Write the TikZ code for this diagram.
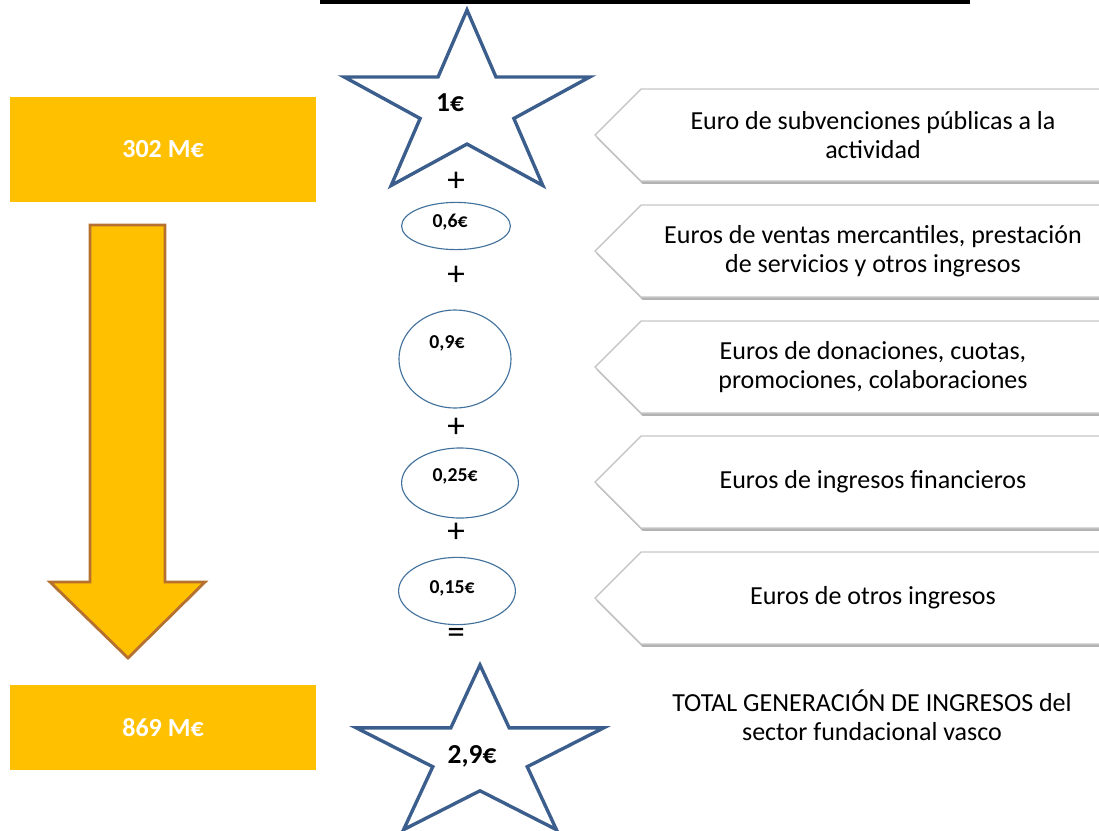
\documentclass[tikz,border=0pt]{standalone}
\usepackage{fontspec}
\setmainfont{Carlito}
\usepackage{tikz}
\usetikzlibrary{shapes.geometric,shadows}

\definecolor{gold}{HTML}{FFC000}
\definecolor{rust}{HTML}{B6702F}
\definecolor{starblue}{HTML}{3B5E8C}
\definecolor{ringblue}{HTML}{41719C}

\tikzset{
  valbox/.style={fill=gold, text=white, font=\bfseries\fontsize{18.5}{22}\selectfont, minimum width=7.65cm, inner sep=0pt},
  starline/.style={draw=starblue, line width=2.4pt, line join=miter},
  ring/.style={ellipse, draw=ringblue, line width=0.8pt, inner sep=0pt},
  ringval/.style={font=\bfseries\fontsize{14}{16}\selectfont},
  starval/.style={font=\bfseries\fontsize{19.5}{22}\selectfont},
  op/.style={font=\fontsize{25}{27}\selectfont, inner sep=0pt},
  tag/.style={draw=gray!45, fill=white, line width=1pt, drop shadow={shadow xshift=1pt, shadow yshift=-2pt, opacity=.6}},
  tagtext/.style={align=center, font=\fontsize{18.5}{21}\selectfont},
}

\begin{document}
\begin{tikzpicture}[x=0.025cm, y=-0.025cm]
  \useasboundingbox (0,0) rectangle (1099,830);

  % top rule
  \coordinate (ruleL) at (320,2);
  \coordinate (ruleR) at (970,2);
  \draw[line width=2.2pt] (ruleL) -- (ruleR);

  % amounts on the left
  \node[valbox, minimum height=2.625cm] (start) at (163,149.5) {302 M€};
  \node[valbox, minimum height=2.125cm] (total) at (163,727.5) {869 M€};
  \draw[fill=gold, draw=rust, line width=2pt]
    (90,225) -- (165,225) -- (165,582) -- (205,582) -- (128,658) -- (50,582) -- (90,582) -- cycle;

  % stars
  \draw[starline] plot[samples at={0,...,9}]
    ({467+(1-0.618*mod(\x,2))*129*cos(90+36*\x)}, {107-(1-0.618*mod(\x,2))*97*sin(90+36*\x)}) -- cycle;
  \draw[starline] plot[samples at={0,...,9}]
    ({480+(1-0.618*mod(\x,2))*130*cos(90+36*\x)}, {756-(1-0.618*mod(\x,2))*91*sin(90+36*\x)}) -- cycle;
  \node[starval] (one) at (450,103) {1€};
  \node[starval] (sum) at (472,756) {2,9€};

  % the parts
  \node[ring, minimum width=2.72cm, minimum height=1.18cm] (r1) at (456,226) {};
  \node[ring, minimum width=2.8cm, minimum height=2.45cm] (r2) at (455,359) {};
  \node[ring, minimum width=2.92cm, minimum height=1.75cm] (r3) at (460,483) {};
  \node[ring, minimum width=2.92cm, minimum height=1.68cm] (r4) at (457,591) {};
  \node[ringval] (v1) at (450,222) {0,6€};
  \node[ringval] (v2) at (447,343) {0,9€};
  \node[ringval] (v3) at (455,476) {0,25€};
  \node[ringval] (v4) at (452,588) {0,15€};

  \node[op] (p1) at (456,182) {+};
  \node[op] (p2) at (456,276) {+};
  \node[op] (p3) at (456,428) {+};
  \node[op] (p4) at (456,533) {+};
  \node[op] (eq) at (456,636) {=};

  % labels on the right
  \foreach \yc/\txt [count=\i] in {135/{Euro de subvenciones públicas a la\\actividad},
      251/{Euros de ventas mercantiles, prestación\\de servicios y otros ingresos},
      367/{Euros de donaciones, cuotas,\\promociones, colaboraciones},
      482/{Euros de ingresos financieros},
      598/{Euros de otros ingresos}}{
    \draw[tag] (595,\yc) -- (641,\yc-46) -- (1115,\yc-46) -- (1115,\yc+46) -- (641,\yc+46) -- cycle;
    \node[tagtext] (t\i) at (873,\yc) {\txt};
  }
  \node[tagtext] (totaltxt) at (872,715) {TOTAL GENERACIÓN DE INGRESOS del\\sector fundacional vasco};
\end{tikzpicture}
\end{document}
